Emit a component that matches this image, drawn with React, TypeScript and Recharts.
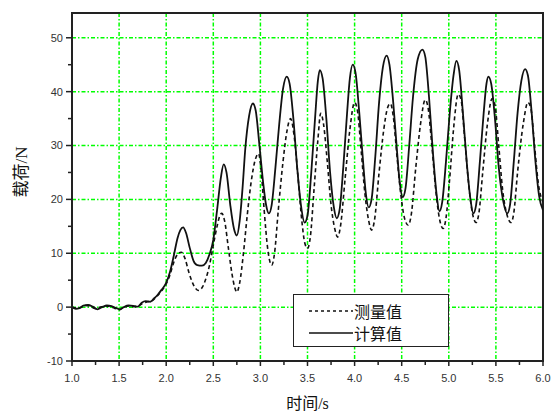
import React from 'react';
import { LineChart, Line, XAxis, YAxis, CartesianGrid, ReferenceArea, Legend, Label } from 'recharts';

const measuredT = [1.0,1.05,1.1,1.15,1.2,1.25,1.3,1.35,1.4,1.45,1.5,1.55,1.6,1.65,1.7,1.75,1.8,1.85,1.9,1.95,2.0,2.04,2.08,2.12,2.16,2.2,2.24,2.28,2.31,2.34,2.38,2.42,2.46,2.5,2.54,2.57,2.59,2.62,2.66,2.7,2.73,2.75,2.78,2.82,2.86,2.9,2.94,2.98,3.01,3.04,3.08,3.12,3.15,3.19,3.24,3.28,3.32,3.36,3.4,3.44,3.47,3.5,3.53,3.57,3.61,3.64,3.67,3.71,3.75,3.79,3.82,3.85,3.9,3.95,4.0,4.03,4.07,4.11,4.15,4.18,4.21,4.26,4.31,4.35,4.38,4.41,4.45,4.49,4.53,4.57,4.6,4.65,4.7,4.75,4.78,4.82,4.86,4.9,4.94,4.97,5.01,5.05,5.1,5.13,5.17,5.21,5.25,5.29,5.32,5.36,5.41,5.46,5.49,5.53,5.57,5.62,5.66,5.69,5.73,5.79,5.84,5.87,5.91,5.95,6.0];
const measuredV = [0,-0.2,0,0.3,0.1,-0.3,0,0.2,0.1,-0.2,-0.5,0,0.2,0.1,0.2,0.7,1.0,1.2,2.0,3.0,4.3,6.0,8.3,9.8,10.2,9.0,6.5,4.5,3.5,3.1,3.6,5.2,7.8,11.5,15,17,17.4,16,11,6,3.5,2.8,4.5,10,17,23,27,28.5,25,18,10.5,7.8,10,18,27,32.5,35,31.5,24,16,12,10.9,13,22,31,36,34,27,19,14.5,13,15,24,33,38,36.5,29,21,16,14.3,16,25,33,37,37.8,35.5,28,21,16.5,15.2,17,26,34,38.5,37,30,22,16.5,14.6,16.5,24,33,39.5,38.5,31,23,17.5,15.7,17.5,25,34,38.7,37.5,30,22,17,15.7,17.5,25,34,38,37,30,23,19.5];

const calcT = [1.0,1.04,1.08,1.12,1.17,1.22,1.27,1.32,1.37,1.42,1.47,1.51,1.55,1.6,1.66,1.7,1.74,1.78,1.83,1.87,1.91,1.95,2.0,2.04,2.08,2.12,2.15,2.18,2.21,2.25,2.29,2.33,2.38,2.42,2.46,2.5,2.54,2.58,2.61,2.64,2.68,2.72,2.75,2.78,2.81,2.84,2.88,2.92,2.95,2.99,3.03,3.06,3.09,3.12,3.16,3.2,3.24,3.28,3.31,3.35,3.39,3.43,3.47,3.5,3.54,3.58,3.61,3.63,3.66,3.7,3.74,3.78,3.81,3.84,3.88,3.92,3.95,3.98,4.01,4.05,4.09,4.12,4.15,4.18,4.22,4.26,4.3,4.34,4.37,4.41,4.45,4.48,4.51,4.54,4.58,4.62,4.67,4.72,4.75,4.79,4.83,4.87,4.9,4.93,4.97,5.01,5.05,5.08,5.11,5.15,5.19,5.23,5.26,5.29,5.33,5.37,5.4,5.42,5.45,5.49,5.53,5.58,5.62,5.65,5.69,5.73,5.77,5.81,5.84,5.88,5.92,5.96,6.0];
const calcV = [0,-0.3,-0.2,0.3,0.4,0.1,-0.4,0,0.3,0.2,-0.2,-0.4,0,0.3,0.2,0.1,0.8,1.1,1.0,1.6,2.3,3.2,4.5,6.5,9.5,12.8,14.3,14.8,13.8,11,8.6,7.8,7.7,8.2,9.8,12.5,18,24,26.5,25,19,14.5,13.3,16,22,29.5,35.5,37.8,36.5,30,23,19,17.4,19,26,34,40.5,42.8,41.5,35,26,19,15.7,17,25,35,42,44,42.5,35,25,18.5,16.5,18,26,36,42.5,45,43.5,36,27,21,18.5,20,28,38,44.5,46.7,45,38,29,23,20.4,22,30,39,46,47.8,46.5,39,29,21,17.8,19.5,27,36,43,45.7,44,36,27,20,17.4,19,27,36,41.5,42.8,41.5,35,26,19.5,17.4,19,27,36,42,44.2,43,36,27,20.5,18];

const xMajorTicks = [1.0,1.5,2.0,2.5,3.0,3.5,4.0,4.5,5.0,5.5,6.0];
const xMinorTicks = [1.25,1.75,2.25,2.75,3.25,3.75,4.25,4.75,5.25,5.75];
const yMajorTicks = [-10,0,10,20,30,40,50];
const yMinorTicks = [-5,5,15,25,35,45];
const xGridValues = [1.5,2.0,2.5,3.0,3.5,4.0,4.5,5.0,5.5];
const yGridValues = [0,10,20,30,40,50];

const measuredName = '测量值';
const calcName = '计算值';
const xLabel = '时间/s';
const yLabel = '载荷/N';

const measured = measuredT.map((t, i) => ({ t, v: measuredV[i] }));
const calc = calcT.map((t, i) => ({ t, v: calcV[i] }));

const xTicks = [...xMajorTicks, ...xMinorTicks].sort((a, b) => a - b);
const yTicks = [...yMajorTicks, ...yMinorTicks].sort((a, b) => a - b);

const tickFont = '"Liberation Sans", Arial, sans-serif';

const XTick = (props: any) => {
  const { x, y, payload } = props;
  const major = xMajorTicks.some((m) => Math.abs(m - payload.value) < 1e-6);
  return (
    <g>
      <line x1={x} y1={y} x2={x} y2={y + (major ? 5 : 4)} stroke="#222" strokeWidth={1.5} />
      {major && (
        <text x={x} y={y + 21} textAnchor="middle" fontSize={11} fontFamily={tickFont} fill="#333">
          {payload.value.toFixed(1)}
        </text>
      )}
    </g>
  );
};

const YTick = (props: any) => {
  const { x, y, payload } = props;
  const major = yMajorTicks.includes(payload.value);
  return (
    <g>
      <line x1={x} y1={y} x2={x - (major ? 6 : 4)} y2={y} stroke="#222" strokeWidth={1.5} />
      {major && (
        <text x={x - 9} y={y} dy="0.35em" textAnchor="end" fontSize={11} fontFamily={tickFont} fill="#333">
          {payload.value}
        </text>
      )}
    </g>
  );
};

const LegendBox = (props: any) => {
  const items = props.payload || [];
  return (
    <div
      style={{
        width: 156,
        height: 53,
        boxSizing: 'border-box',
        border: '1.5px solid #222',
        background: '#fff',
        paddingTop: 5,
      }}
    >
      {items.map((it: any, i: number) => (
        <div key={i} style={{ display: 'flex', alignItems: 'center', height: 22, marginLeft: 14 }}>
          <svg width={46} height={10}>
            <line
              x1={1}
              y1={5}
              x2={45}
              y2={5}
              stroke="#111"
              strokeWidth={1.5}
              strokeDasharray={it.payload && it.payload.strokeDasharray ? '3 3' : undefined}
            />
          </svg>
          <span style={{ fontFamily: '"Noto Sans CJK SC", sans-serif', fontSize: 16, color: '#111', lineHeight: '22px' }}>
            {it.value}
          </span>
        </div>
      ))}
    </div>
  );
};

export default function App() {
  return (
    <div style={{ position: 'absolute', left: 0, top: 0 }}>
      <LineChart width={555} height={414} margin={{ top: 13, right: 12, left: 0, bottom: 0 }}>
        <CartesianGrid
          stroke="#00ff00"
          strokeWidth={1.5}
          strokeDasharray="4 2 1.5 2"
          verticalValues={xGridValues}
          horizontalValues={yGridValues}
        />
        <XAxis
          dataKey="t"
          type="number"
          domain={[1, 6]}
          ticks={xTicks}
          interval={0}
          allowDataOverflow
          height={53}
          tickSize={0}
          tickMargin={0}
          tickLine={false}
          tick={<XTick />}
          axisLine={{ stroke: '#222', strokeWidth: 2 }}
        >
          <Label
            value={xLabel}
            position="insideBottom"
            offset={5}
            style={{ fontFamily: '"Liberation Serif", "Noto Sans CJK SC", serif', fontSize: 16, fill: '#111' }}
          />
        </XAxis>
        <YAxis
          type="number"
          domain={[-10, 54.6]}
          ticks={yTicks}
          interval={0}
          allowDataOverflow
          width={72}
          tickSize={0}
          tickMargin={0}
          tickLine={false}
          tick={<YTick />}
          axisLine={{ stroke: '#222', strokeWidth: 2 }}
        >
          <Label
            content={(p: any) => {
              const vb = p.viewBox || { x: 0, y: 13, width: 72, height: 348 };
              const cx = vb.x + 21;
              const cy = vb.y + vb.height / 2 - 15;
              return (
                <text
                  x={cx}
                  y={cy}
                  transform={`rotate(-90, ${cx}, ${cy})`}
                  textAnchor="middle"
                  dy="0.35em"
                  style={{ fontFamily: '"Liberation Serif", "Noto Sans CJK SC", serif', fontSize: 17, fill: '#111' }}
                >
                  {yLabel}
                </text>
              );
            }}
          />
        </YAxis>
        <ReferenceArea x1={1} x2={6} y1={-10} y2={54.6} fill="none" stroke="#222" strokeWidth={2} ifOverflow="visible" />
        <Line
          data={measured}
          dataKey="v"
          name={measuredName}
          type="monotone"
          stroke="#111"
          strokeWidth={1.6}
          strokeDasharray="4 3"
          dot={false}
          activeDot={false}
          isAnimationActive={false}
        />
        <Line
          data={calc}
          dataKey="v"
          name={calcName}
          type="monotone"
          stroke="#111"
          strokeWidth={1.8}
          dot={false}
          activeDot={false}
          isAnimationActive={false}
        />
        <Legend
          layout="vertical"
          verticalAlign="middle"
          align="center"
          content={<LegendBox />}
          wrapperStyle={{ left: 293, top: 294, width: 156, height: 53 }}
        />
      </LineChart>
    </div>
  );
}
